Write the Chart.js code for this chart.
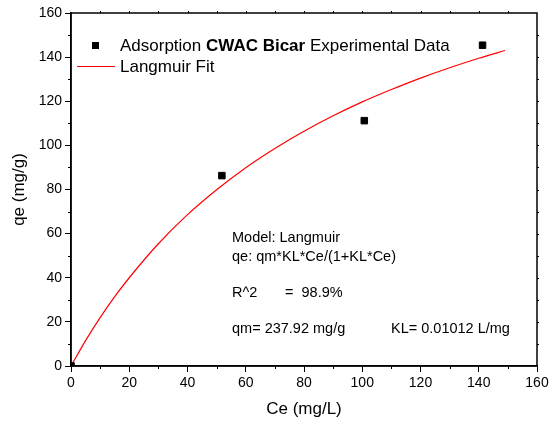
<!DOCTYPE html>
<html>
<head>
<meta charset="utf-8">
<script src="https://cdn.jsdelivr.net/npm/chart.js@4.4.1/dist/chart.umd.min.js"></script>
<style>
  html, body { margin: 0; padding: 0; background: #fff; }
  #wrap { width: 553px; height: 424px; }
</style>
</head>
<body>
<div id="wrap"><canvas id="chart" width="553" height="424"></canvas></div>
<script>
const ceExp = [0, 51.8, 100.7, 141.3];
const qeExp = [0, 86.3, 111.2, 145.4];

// Langmuir fit curve
const ceFit = [0, 5, 10, 15, 20, 30, 40, 50, 60, 70, 80, 90, 100, 110, 120, 130, 140, 149];
const qeFit = [0, 11.5, 21.9, 31.4, 40.0, 55.4, 68.6, 79.9, 89.9, 98.6, 106.4, 113.4, 119.7, 125.3, 130.5, 135.2, 139.5, 143.0];

const xTicks = [0, 20, 40, 60, 80, 100, 120, 140, 160];
const yTicks = [0, 20, 40, 60, 80, 100, 120, 140, 160];

const FONT = '"Liberation Sans", Arial, sans-serif';

// рамка, мелкие деления, легенда и подписи модели
const decorPlugin = {
  id: 'decor',
  afterDraw(chart) {
    const ctx = chart.ctx;
    const xs = chart.scales.x, ys = chart.scales.y;
    const a = chart.chartArea;
    ctx.save();
    ctx.strokeStyle = '#000';
    ctx.lineWidth = 1.5;
    ctx.strokeRect(a.left, a.top, a.right - a.left, a.bottom - a.top);

    ctx.lineWidth = 1;
    ctx.beginPath();
    for (let v = 10; v < 160; v += 20) {
      const px = Math.round(xs.getPixelForValue(v)) + 0.5;
      ctx.moveTo(px, a.bottom); ctx.lineTo(px, a.bottom + 3);
      const py = Math.round(ys.getPixelForValue(v)) + 0.5;
      ctx.moveTo(a.left, py); ctx.lineTo(a.left - 3, py);
    }
    for (let v = 10; v < 160; v += 10) {
      const px = Math.round(xs.getPixelForValue(v)) + 0.5;
      ctx.moveTo(px, a.top); ctx.lineTo(px, a.top - 2);
      const py = Math.round(ys.getPixelForValue(v)) + 0.5;
      ctx.moveTo(a.right, py); ctx.lineTo(a.right + 2, py);
    }
    ctx.stroke();

    // legend
    ctx.fillStyle = '#000';
    ctx.fillRect(92, 42, 7, 7);
    ctx.textBaseline = 'middle';
    ctx.textAlign = 'left';
    let x = 120;
    const parts = [['Adsorption ', ''], ['CWAC Bicar', 'bold '], [' Experimental Data', '']];
    parts.forEach(p => {
      ctx.font = p[1] + '17px ' + FONT;
      ctx.fillText(p[0], x, 46);
      x += ctx.measureText(p[0]).width;
    });
    ctx.strokeStyle = '#ff0000';
    ctx.beginPath();
    ctx.moveTo(77, 66.5); ctx.lineTo(115, 66.5);
    ctx.stroke();
    ctx.font = '17px ' + FONT;
    ctx.fillText('Langmuir Fit', 120, 67);

    // model info
    ctx.font = '14.5px ' + FONT;
    ctx.fillText('Model: Langmuir', 232, 238);
    ctx.fillText('qe: qm*KL*Ce/(1+KL*Ce)', 232, 257);
    ctx.fillText('R^2', 232, 293);
    ctx.fillText('=  98.9%', 285, 293);
    ctx.fillText('qm= 237.92 mg/g', 232, 329);
    ctx.fillText('KL= 0.01012 L/mg', 391, 329);
    ctx.restore();
  }
};

new Chart(document.getElementById('chart').getContext('2d'), {
  type: 'scatter',
  data: {
    datasets: [
      {
        label: 'Adsorption CWAC Bicar Experimental Data',
        data: ceExp.map((c, i) => ({ x: c, y: qeExp[i] })),
        pointStyle: 'rect',
        pointRadius: 4.6,
        pointBackgroundColor: '#000',
        pointBorderColor: '#000',
        pointBorderWidth: 1,
        clip: 0
      },
      {
        label: 'Langmuir Fit',
        type: 'line',
        data: ceFit.map((c, i) => ({ x: c, y: qeFit[i] })),
        borderColor: '#ff0000',
        borderWidth: 1.2,
        pointRadius: 0,
        fill: false,
        cubicInterpolationMode: 'monotone'
      }
    ]
  },
  options: {
    responsive: false,
    animation: false,
    layout: { padding: { top: 13, right: 16, left: 0, bottom: 0 } },
    plugins: {
      legend: { display: false },
      tooltip: { enabled: false }
    },
    scales: {
      x: {
        type: 'linear',
        min: 0, max: 160,
        afterFit: s => { s.height = 58; },
        afterBuildTicks: s => { s.ticks = xTicks.map(v => ({ value: v })); },
        grid: { drawOnChartArea: false, drawTicks: true, tickLength: 6, tickColor: '#000', tickWidth: 1 },
        border: { display: true, color: '#000', width: 1.5 },
        ticks: { color: '#000', font: { family: FONT, size: 14 }, padding: 3, maxRotation: 0 },
        title: { display: true, text: 'Ce (mg/L)', color: '#000', font: { family: FONT, size: 17 }, padding: { bottom: 4 } }
      },
      y: {
        type: 'linear',
        min: 0, max: 160,
        afterFit: s => { s.width = 71; },
        afterBuildTicks: s => { s.ticks = yTicks.map(v => ({ value: v })); },
        grid: { drawOnChartArea: false, drawTicks: true, tickLength: 6, tickColor: '#000', tickWidth: 1 },
        border: { display: true, color: '#000', width: 1.5 },
        ticks: { color: '#000', font: { family: FONT, size: 14 }, padding: 3 },
        title: { display: true, text: 'qe (mg/g)', color: '#000', font: { family: FONT, size: 17 }, padding: { top: 9 } }
      }
    }
  },
  plugins: [decorPlugin]
});
</script>
</body>
</html>
